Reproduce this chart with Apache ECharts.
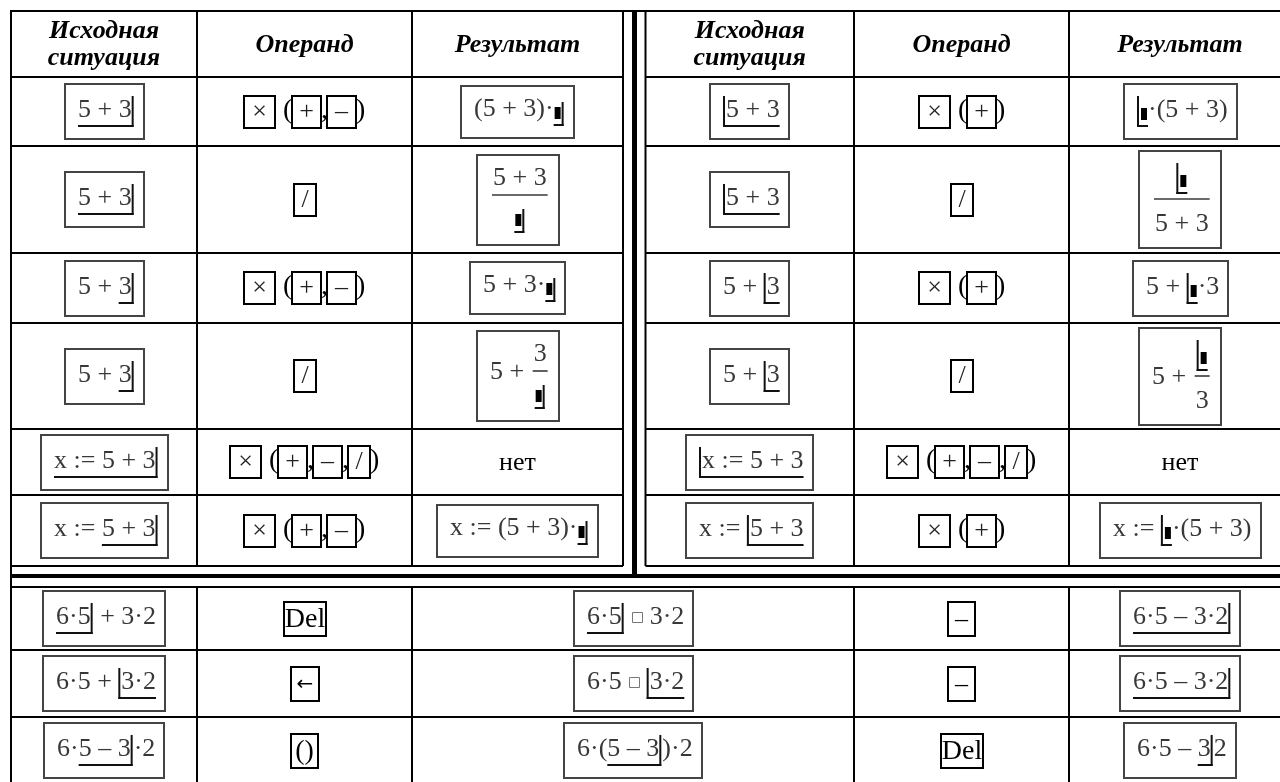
<!DOCTYPE html>
<html>
<head>
<meta charset="utf-8">
<script src="https://cdn.jsdelivr.net/npm/echarts@6/dist/echarts.min.js"></script>
<style>html,body{margin:0;padding:0;background:#fff;}#chart{width:1280px;height:782px;}</style>
</head>
<body>
<div id="chart"></div>
<script>
// ===================== DATA =====================
// markup: {..} underlined part, | editing cursor, ■ placeholder, □ empty operator
const headerLabels = ['Исходная\nситуация', 'Операнд', 'Результат'];

const leftInitial  = ['{5 + 3|}', '{5 + 3|}', '5 + {3|}', '5 + {3|}', '{x := 5 + 3|}', 'x := {5 + 3|}'];
const leftOperand  = [['×','+','–'], ['/'], ['×','+','–'], ['/'], ['×','+','–','/'], ['×','+','–']];
const leftResult   = ['(5 + 3)·{■|}', [{n:'5 + 3', d:'{■|}'}], '5 + 3·{■|}', ['5 + ', {n:'3', d:'{■|}'}], 'нет', 'x := (5 + 3)·{■|}'];

const rightInitial = ['{|5 + 3}', '{|5 + 3}', '5 + {|3}', '5 + {|3}', '{|x := 5 + 3}', 'x := {|5 + 3}'];
const rightOperand = [['×','+'], ['/'], ['×','+'], ['/'], ['×','+','–','/'], ['×','+']];
const rightResult  = ['{|■}·(5 + 3)', [{n:'{|■}', d:'5 + 3'}], '5 + {|■}·3', ['5 + ', {n:'{|■}', d:'3'}], 'нет', 'x := {|■}·(5 + 3)'];

const bottomInitial = ['{6·5|} + 3·2', '6·5 + {|3·2}', '6·{5 – 3|}·2'];
const bottomKeyA    = ['Del', '←', '()'];
const bottomResultA = ['{6·5|} □ 3·2', '6·5 □ {|3·2}', '6·({5 – 3|})·2'];
const bottomKeyB    = ['–', '–', 'Del'];
const bottomResultB = ['{6·5 – 3·2|}', '{6·5 – 3·2|}', '6·5 – {3|}2'];
const noneLabel = 'нет';

// ===================== LAYOUT =====================
const COLS_TOP_L = [11, 197, 412, 623];
const COLS_TOP_R = [645.5, 854, 1069, 1291];
const ROWS_TOP   = [11, 77, 146, 253, 323, 429, 495, 566];
const COLS_BOT   = [11, 197, 412, 854, 1069, 1291];
const ROWS_BOT   = [587, 650, 717, 790];

const EXPR_FONT   = '26px "Liberation Serif"';
const EXPR_COLOR  = '#383838';
const HEAD_FONT   = 'italic bold 26px "Liberation Serif"';
const PLAIN_FONT  = '26px "Liberation Serif"';
const KEY_FONT    = '26px "Liberation Serif"';
const PAREN_FONT  = '28px "Liberation Serif"';
const CAP = 18, UL = 9, AXIS = 8, NUM_GAP = 5, DEN_GAP = 14;
const KEY_W = {'×':31, '+':29, '–':29, '/':22};

const cv = document.createElement('canvas').getContext('2d');
function tw(t, font){ cv.font = font; return cv.measureText(t).width; }
function midOff(font){
  cv.font = font; cv.textBaseline = 'alphabetic';
  const a = cv.measureText('H').actualBoundingBoxAscent;
  cv.textBaseline = 'middle';
  const m = cv.measureText('H').actualBoundingBoxAscent;
  cv.textBaseline = 'alphabetic';
  return a - m;
}
const EXPR_MID = midOff(EXPR_FONT);

function T(t, x, y, font, fill, align, valign){
  return {type:'text', silent:true, style:{text:t, x:x, y:y, font:font, fill:fill,
    align:align||'left', verticalAlign:valign||'middle', textAlign:align||'left', textVerticalAlign:valign||'middle'}};
}
function LN(x1,y1,x2,y2,w,c){ return {type:'line', silent:true, shape:{x1,y1,x2,y2}, style:{stroke:c||'#111', lineWidth:w||2}}; }
function RC(x,y,w,h,stroke,lw,fill){ return {type:'rect', silent:true, shape:{x,y,width:w,height:h}, style:{stroke:stroke||null, lineWidth:lw||0, fill:fill||'none'}}; }

function layoutLinear(str){
  const L = {texts:[], ph:[], holes:[], ul:null, cur:null, ulHasText:false};
  let x = 0, buf = '', bufX = 0, inUl = false, ulStart = 0;
  const flush = () => { if (buf){ L.texts.push({x:bufX, t:buf}); x = bufX + tw(buf, EXPR_FONT); buf=''; } };
  for (const ch of str){
    if (ch === '{'){ flush(); inUl = true; ulStart = x; }
    else if (ch === '}'){ flush(); inUl = false; L.ul = [ulStart, x]; }
    else if (ch === '|'){ flush(); L.cur = {x:x+1, left: Math.abs(x-ulStart) < 0.5 && inUl}; x += 3; }
    else if (ch === '■'){ flush(); L.ph.push(x+1); x += 8; }
    else if (ch === '□'){ flush(); L.holes.push(x+1); x += 12; }
    else { if (!buf) bufX = x; buf += ch; if (inUl && ch !== ' ') L.ulHasText = true; }
  }
  flush();
  L.w = x;
  const hasText = L.texts.some(t => t.t.trim().length);
  if (L.cur) L.cur.top = (L.ulHasText || L.cur.left) ? -21 : -14;
  L.top = Math.min(hasText ? -CAP : 0, L.ph.length ? -9 : 0, L.cur ? L.cur.top : 0, L.holes.length ? -12 : 0);
  L.bottom = L.ul ? UL + 1 : 5;
  return L;
}

function layoutExpr(v){
  const parts = Array.isArray(v) ? v : [v];
  let x = 0, top = 0, bottom = 0; const segs = [];
  parts.forEach(p => {
    if (typeof p === 'string'){
      const L = layoutLinear(p);
      segs.push({type:'lin', L, x});
      x += L.w; top = Math.min(top, L.top); bottom = Math.max(bottom, L.bottom);
    } else {
      const n = layoutLinear(p.n), d = layoutLinear(p.d);
      const w = Math.max(n.w, d.w) + 6;
      const barY = -AXIS;
      const nb = barY - NUM_GAP - n.bottom;
      const db = barY + DEN_GAP - d.top;
      segs.push({type:'frac', n, d, x, w, barY, nb, db});
      top = Math.min(top, nb + n.top); bottom = Math.max(bottom, db + d.bottom);
      x += w;
    }
  });
  return {segs, w:x, top, bottom};
}

function drawLinear(L, x0, b, out){
  L.texts.forEach(t => out.push(T(t.t, x0 + t.x, b - EXPR_MID, EXPR_FONT, EXPR_COLOR)));
  L.ph.forEach(px => out.push(RC(x0 + px, b - 9, 6, 12, null, 0, '#000')));
  L.holes.forEach(hx => out.push(RC(Math.round(x0 + hx) + 0.5, Math.round(b - 12) + 0.5, 10, 10, '#777', 1)));
  if (L.ul){
    let a = x0 + L.ul[0], c = x0 + L.ul[1];
    if (L.cur && !L.cur.left) c = x0 + L.cur.x + 1;
    if (L.cur && L.cur.left) a = x0 + L.cur.x - 1;
    out.push(LN(a, b + UL, c, b + UL, 2, '#111'));
  }
  if (L.cur) out.push(LN(x0 + L.cur.x, b + L.cur.top, x0 + L.cur.x, b + UL + 1, 2, '#111'));
}

function drawExprBox(v, cx, cy, out){
  const E = layoutExpr(v);
  const padL = 13, padR = 9, padT = 12, padB = 12;
  const bw = Math.round(E.w + padL + padR), bh = Math.round(E.bottom - E.top + padT + padB);
  const bx = Math.round(cx - bw/2), by = Math.round(cy - bh/2);
  out.push(RC(bx, by, bw, bh, '#444', 2));
  const base = by + padT - E.top;
  E.segs.forEach(s => {
    const sx = bx + padL + s.x;
    if (s.type === 'lin') drawLinear(s.L, sx, base, out);
    else {
      drawLinear(s.n, sx + (s.w - s.n.w)/2, base + s.nb, out);
      drawLinear(s.d, sx + (s.w - s.d.w)/2, base + s.db, out);
      out.push(LN(sx + 2, base + s.barY, sx + s.w - 2, base + s.barY, 1.6, EXPR_COLOR));
    }
  });
}

function drawKeys(keys, cx, cy, out){
  const h = 32, parts = []; let x = 0;
  const box = k => { parts.push({t:'box', k, x, w:KEY_W[k]}); x += KEY_W[k]; };
  const gl = (g, adv) => { parts.push({t:'gl', g, x}); x += adv; };
  box(keys[0]);
  if (keys.length > 1){
    x += 8; gl('(', 9);
    keys.slice(1).forEach((k, i) => { if (i) gl(',', 6); box(k); });
    gl(')', 9);
  }
  const x0 = Math.round(cx - x/2), y0 = Math.round(cy - h/2);
  parts.forEach(p => {
    if (p.t === 'box'){
      out.push(RC(x0 + p.x, y0, p.w, h, '#000', 2));
      out.push(T(p.k, x0 + p.x + p.w/2, y0 + h/2, KEY_FONT, '#222', 'center'));
    } else {
      out.push(T(p.g, x0 + p.x, y0 + h/2 - 1, PAREN_FONT, '#000', 'left'));
    }
  });
}

function drawKey(k, cx, cy, out){
  const h = 34;
  let font = PAREN_FONT, w = 27;
  if (k === 'Del'){ w = Math.round(tw(k, PAREN_FONT)) + 2; }
  if (k === '←'){ font = '20px "DejaVu Sans"'; w = 28; }
  if (k === '–'){ font = KEY_FONT; }
  const x0 = Math.round(cx - w/2), y0 = Math.round(cy - h/2);
  out.push(RC(x0, y0, w, h, '#000', 2));
  out.push(T(k, x0 + w/2, y0 + h/2 + 1, font, '#000', 'center'));
}

// ----- cells -----
const mid = (a, b) => (a + b) / 2;
const cells = [];
[COLS_TOP_L, COLS_TOP_R].forEach(cols => headerLabels.forEach((h, i) =>
  cells.push({kind:'header', x:mid(cols[i], cols[i+1]), y:mid(ROWS_TOP[0], ROWS_TOP[1]) + 1, v:h})));
const sides = [[COLS_TOP_L, leftInitial, leftOperand, leftResult], [COLS_TOP_R, rightInitial, rightOperand, rightResult]];
for (let r = 0; r < leftInitial.length; r++){
  const y = mid(ROWS_TOP[r+1], ROWS_TOP[r+2]);
  sides.forEach(([cols, ini, op, res]) => {
    cells.push({kind:'expr', x:mid(cols[0], cols[1]), y, v:ini[r]});
    cells.push({kind:'keys', x:mid(cols[1], cols[2]), y, v:op[r]});
    cells.push(res[r] === noneLabel ? {kind:'plain', x:mid(cols[2], cols[3]), y, v:res[r]}
                                    : {kind:'expr', x:mid(cols[2], cols[3]), y, v:res[r]});
  });
}
for (let r = 0; r < bottomInitial.length; r++){
  const y = mid(ROWS_BOT[r], Math.min(ROWS_BOT[r+1], 782 + 2));
  const C = COLS_BOT;
  cells.push({kind:'expr', x:mid(C[0], C[1]), y, v:bottomInitial[r]});
  cells.push({kind:'key',  x:mid(C[1], C[2]), y, v:bottomKeyA[r]});
  cells.push({kind:'expr', x:mid(C[2], C[3]), y, v:bottomResultA[r]});
  cells.push({kind:'key',  x:mid(C[3], C[4]), y, v:bottomKeyB[r]});
  cells.push({kind:'expr', x:mid(C[4], C[5]), y, v:bottomResultB[r]});
}

// ----- rules -----
const rules = [];
const T0 = ROWS_TOP[0], TB = ROWS_TOP[ROWS_TOP.length - 1];
rules.push([11, T0, 1291, T0, 2]);
rules.push([11, T0 - 1, 11, 790, 2]);
[197, 412, 623, 645.5, 854, 1069].forEach(x => rules.push([x, T0, x, TB, 2]));
rules.push([634.5, T0, 634.5, 578, 5]);
ROWS_TOP.slice(1).forEach(y => { rules.push([11, y, 623, y, 2]); rules.push([645.5, y, 1291, y, 2]); });
rules.push([11, 576, 1291, 576, 4]);
rules.push([11, 587, 1291, 587, 2]);
COLS_BOT.slice(1, 5).forEach(x => rules.push([x, 587, x, 790, 2]));
ROWS_BOT.slice(1, 3).forEach(y => rules.push([11, y, 1291, y, 2]));

// ===================== CHART =====================
const chart = echarts.init(document.getElementById('chart'), null, {renderer:'canvas'});
chart.setOption({
  animation: false,
  backgroundColor: '#fff',
  grid: {left:0, right:0, top:0, bottom:0},
  xAxis: {type:'value', min:0, max:1280, show:false},
  yAxis: {type:'value', min:0, max:782, inverse:true, show:false},
  tooltip: {show:false},
  series: [
    {
      type:'custom', silent:true, clip:false,
      data: rules,
      renderItem: (params, api) => {
        const a = api.coord([api.value(0), api.value(1)]);
        const b = api.coord([api.value(2), api.value(3)]);
        return LN(a[0], a[1], b[0], b[1], api.value(4), '#000');
      }
    },
    {
      type:'custom', silent:true, clip:false,
      data: cells.map((c, i) => [c.x, c.y, i]),
      renderItem: (params, api) => {
        const c = cells[api.value(2)];
        const p = api.coord([api.value(0), api.value(1)]);
        const out = [];
        if (c.kind === 'header') out.push({type:'text', silent:true, style:{text:c.v, x:p[0], y:p[1], font:HEAD_FONT, fill:'#000', lineHeight:27,
            align:'center', verticalAlign:'middle', textAlign:'center', textVerticalAlign:'middle'}});
        else if (c.kind === 'expr') drawExprBox(c.v, p[0], p[1], out);
        else if (c.kind === 'keys') drawKeys(c.v, p[0], p[1], out);
        else if (c.kind === 'key') drawKey(c.v, p[0], p[1], out);
        else if (c.kind === 'plain') out.push(T(c.v, p[0], p[1] + 1, PLAIN_FONT, '#000', 'center'));
        return {type:'group', children: out};
      }
    }
  ]
});
</script>
</body>
</html>
